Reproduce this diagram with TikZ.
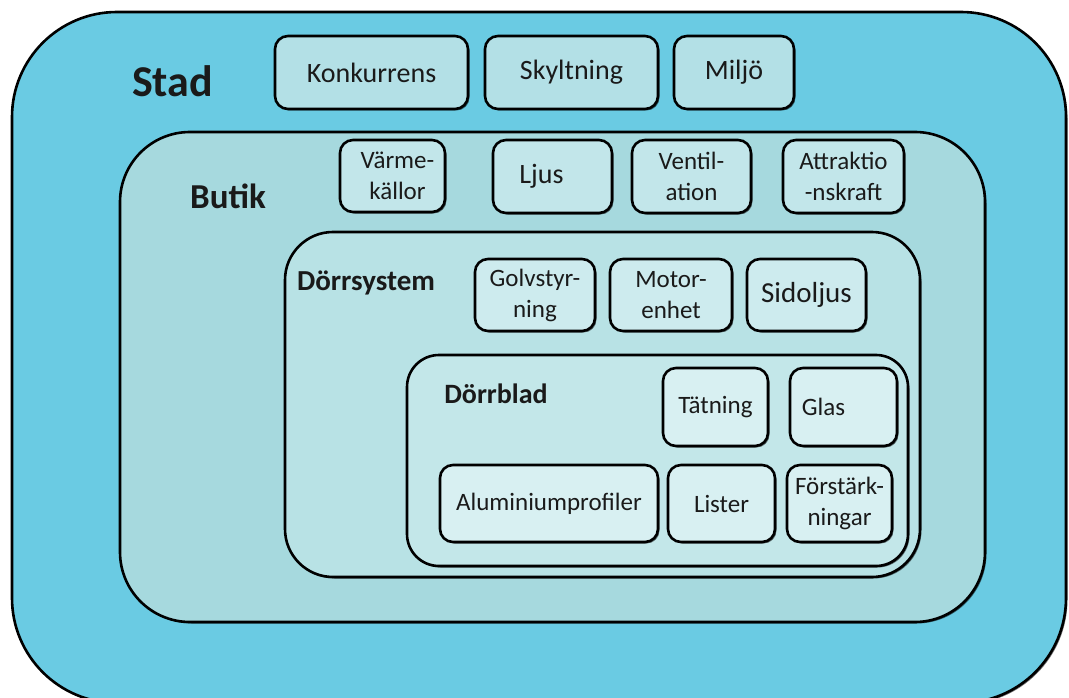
\documentclass[tikz,border=0pt]{standalone}
\usepackage{fontspec}
\setmainfont{Carlito}
\usetikzlibrary{shadows}
\definecolor{stadfill}{HTML}{6ACBE3}
\definecolor{butikfill}{HTML}{A6D9DE}
\definecolor{dsysfill}{HTML}{B8E2E5}
\definecolor{dbladfill}{HTML}{C3E7E9}
\definecolor{boxA}{HTML}{B3E0E6}
\definecolor{boxB}{HTML}{C2E6EA}
\definecolor{boxC}{HTML}{CDEBEE}
\definecolor{boxD}{HTML}{D8F0F2}
\definecolor{ink}{HTML}{1A1A1A}
\tikzset{
  shad/.style={drop shadow={shadow xshift=1.5pt, shadow yshift=-1.5pt, fill=black, opacity=0.55}},
  container/.style={draw=black, line width=2.6pt, rectangle, shad},
  item/.style={draw=black, line width=2.6pt, rectangle, rounded corners=13pt, align=center,
     text=ink, inner sep=0pt, shad, font=\fontsize{25}{31}\selectfont},
  biglabel/.style={text=ink, inner sep=0pt, anchor=base, font=\bfseries\fontsize{28}{33}\selectfont},
}
\begin{document}
\begin{tikzpicture}[x=1pt,y=-1pt]
\useasboundingbox (0,0) rectangle (1069,698);
\fill[white] (0,0) rectangle (1069,698);
\clip (0,0) rectangle (1069,698);
% containers
\node[container, fill=stadfill, rounded corners=105pt, minimum width=1054pt, minimum height=691pt] (stad) at (539,357.5) {};
\node[biglabel, font=\bfseries\fontsize{44}{50}\selectfont] (stadl) at (172.5,97) {Stad};
\node[item, fill=boxA, minimum width=193pt, minimum height=73pt, font=\fontsize{28}{33}\selectfont] (konk) at (371.5,72.5) {Konkurrens};
\node[item, fill=boxA, minimum width=173pt, minimum height=73pt, font=\fontsize{28}{33}\selectfont] (skylt) at (571.5,72.5) {Skyltning};
\node[item, fill=boxA, minimum width=120pt, minimum height=73pt, font=\fontsize{28}{33}\selectfont] (miljo) at (734,72.5) {Miljö};

\node[container, fill=butikfill, rounded corners=70pt, minimum width=865pt, minimum height=490pt] (butik) at (552.5,377) {};
\node[biglabel, font=\bfseries\fontsize{35}{40}\selectfont] (butikl) at (228,208) {Butik};
\node[item, fill=boxB, minimum width=105pt, minimum height=72pt] (varme) at (392.5,176) {\hspace*{10pt}Värme-\\\hspace*{10pt}källor};
\node[item, fill=boxB, minimum width=119pt, minimum height=73pt, font=\fontsize{28}{33}\selectfont] (ljus) at (552.5,176.5) {Ljus\hspace*{22pt}};
\node[item, fill=boxB, minimum width=119pt, minimum height=73pt] (vent) at (691.5,176.5) {Ventil-\\ation};
\node[item, fill=boxB, minimum width=121pt, minimum height=73pt] (attr) at (843.5,176.5) {Attraktio\\-nskraft};

\node[container, fill=dsysfill, rounded corners=48pt, minimum width=635pt, minimum height=345pt] (dsys) at (602.5,404.5) {};
\node[biglabel, font=\bfseries\fontsize{29}{34}\selectfont] (dsysl) at (366,290) {Dörrsystem};
\node[item, fill=boxC, minimum width=120pt, minimum height=72pt] (golv) at (535,295) {Golvstyr-\\ning};
\node[item, fill=boxC, minimum width=122pt, minimum height=72pt] (motor) at (671,295) {Motor-\\enhet};
\node[item, fill=boxC, minimum width=119pt, minimum height=72pt, font=\fontsize{29}{34}\selectfont] (sido) at (806.5,295) {Sidoljus};

\node[container, fill=dbladfill, rounded corners=32pt, minimum width=501pt, minimum height=211pt] (dblad) at (657.5,460.5) {};
\node[biglabel] (dbladl) at (496,403) {Dörrblad};
\node[item, fill=boxD, minimum width=105pt, minimum height=78pt] (tat) at (715.5,407) {Tätning};
\node[item, fill=boxD, minimum width=107pt, minimum height=78pt] (glas) at (843.5,407) {Glas\hspace*{40pt}};
\node[item, fill=boxD, minimum width=218pt, minimum height=77pt] (alu) at (549,503.5) {Aluminiumprofiler};
\node[item, fill=boxD, minimum width=107pt, minimum height=77pt] (list) at (721.5,503.5) {Lister};
\node[item, fill=boxD, minimum width=105pt, minimum height=77pt] (forst) at (839.5,503.5) {Förstärk-\\ningar};
\end{tikzpicture}
\end{document}
